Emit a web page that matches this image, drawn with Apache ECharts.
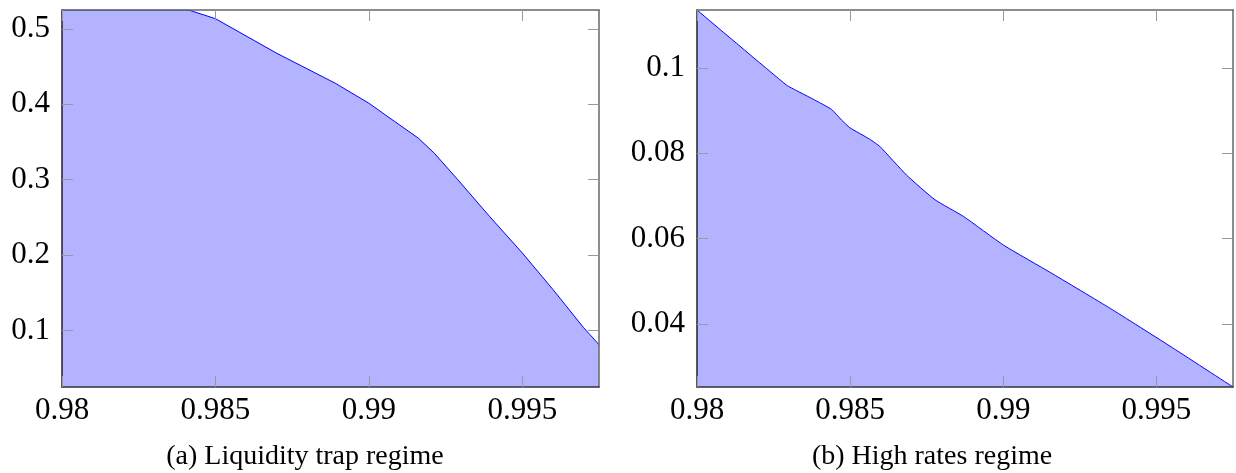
<!DOCTYPE html>
<html>
<head>
<meta charset="utf-8">
<script src="https://cdn.jsdelivr.net/npm/echarts@6/dist/echarts.min.js"></script>
<style>
html,body{margin:0;padding:0;background:#fff;}
#chart{width:1236px;height:473px;}
</style>
</head>
<body>
<div id="chart"></div>
<script>
// ---- data ----
const leftX = [0.98, 0.984, 0.98416, 0.985, 0.987, 0.9889, 0.99, 0.99084, 0.99161, 0.99213, 0.9929, 0.99393, 0.995, 0.996, 0.997, 0.9975];
const leftY = [0.525, 0.525, 0.5245, 0.5135, 0.4676, 0.428, 0.4014, 0.3772, 0.3551, 0.3352, 0.2999, 0.2514, 0.2028, 0.1543, 0.1036, 0.0812];
const rightX = [0.98, 0.98292, 0.98325, 0.98379, 0.98439, 0.98472, 0.98499, 0.98564, 0.98597, 0.98684, 0.98777, 0.9887, 0.99, 0.99155, 0.9935, 0.99544, 0.9975];
const rightY = [0.1136, 0.0960, 0.0947, 0.0927, 0.0903, 0.0878, 0.0860, 0.0833, 0.0816, 0.0749, 0.0691, 0.0652, 0.0585, 0.0520, 0.0436, 0.0348, 0.0252];
const xTicks = [0.98, 0.985, 0.99, 0.995];
const leftYTicks = [0.1, 0.2, 0.3, 0.4, 0.5];
const rightYTicks = [0.04, 0.06, 0.08, 0.1];
const captions = ['(a) Liquidity trap regime', '(b) High rates regime'];
const xRange = [0.98, 0.9975];
const leftYRange = [0.025, 0.525];
const rightYRange = [0.0252, 0.1136];

const FONT = "'Liberation Serif', 'DejaVu Serif', serif";
const grids = [
  {left: 62, top: 10, width: 537, height: 377},
  {left: 697, top: 10, width: 536, height: 377}
];

function xAx(gi, pos, show) {
  return {
    type: 'value', gridIndex: gi, position: pos, min: xRange[0], max: xRange[1],
    z: 5,
    splitLine: {show: false},
    axisLine: {show: true, onZero: false, lineStyle: {color: pos === 'bottom' ? '#333' : '#666', width: 1.5}},
    axisTick: {show: true, inside: true, length: 11, customValues: xTicks, lineStyle: {color: '#999', width: 1}},
    axisLabel: {show: show, customValues: xTicks, margin: 8, fontFamily: FONT, fontSize: 31, color: '#000',
      formatter: v => String(+v.toFixed(4))}
  };
}
function yAx(gi, pos, show, range, ticks) {
  return {
    type: 'value', gridIndex: gi, position: pos, min: range[0], max: range[1],
    z: 5,
    splitLine: {show: false},
    axisLine: {show: true, onZero: false, lineStyle: {color: pos === 'left' ? '#222' : '#666', width: 1.5}},
    axisTick: {show: true, inside: true, length: 11, customValues: ticks, lineStyle: {color: '#999', width: 1}},
    axisLabel: {show: show, customValues: ticks, margin: 12, fontFamily: FONT, fontSize: 31, color: '#000',
      formatter: v => String(+v.toFixed(4))}
  };
}

function mkSeries(xs, ys, xi, yi, sm) {
  return {
    type: 'line', xAxisIndex: xi, yAxisIndex: yi,
    data: xs.map((x, i) => [x, ys[i]]),
    showSymbol: false, symbol: 'none',
    smooth: sm,
    clip: true,
    lineStyle: {color: '#0000ff', width: 1},
    areaStyle: {color: '#b3b3ff', opacity: 1, origin: 'start'},
    z: 2, silent: true, animation: false
  };
}

const chart = echarts.init(document.getElementById('chart'), null, {renderer: 'canvas'});
chart.setOption({
  animation: false,
  backgroundColor: '#fff',
  grid: grids,
  xAxis: [xAx(0, 'bottom', true), xAx(0, 'top', false), xAx(1, 'bottom', true), xAx(1, 'top', false)],
  yAxis: [yAx(0, 'left', true, leftYRange, leftYTicks), yAx(0, 'right', false, leftYRange, leftYTicks),
          yAx(1, 'left', true, rightYRange, rightYTicks), yAx(1, 'right', false, rightYRange, rightYTicks)],
  series: [mkSeries(leftX, leftY, 0, 0, false), mkSeries(rightX, rightY, 2, 2, 0.15)],
  graphic: [
    {type: 'text', x: 305, y: 457, style: {text: captions[0], fontFamily: FONT, fontSize: 28, align: 'center', verticalAlign: 'middle', fill: '#000'}},
    {type: 'text', x: 932, y: 457, style: {text: captions[1], fontFamily: FONT, fontSize: 28, align: 'center', verticalAlign: 'middle', fill: '#000'}}
  ]
});
</script>
</body>
</html>
